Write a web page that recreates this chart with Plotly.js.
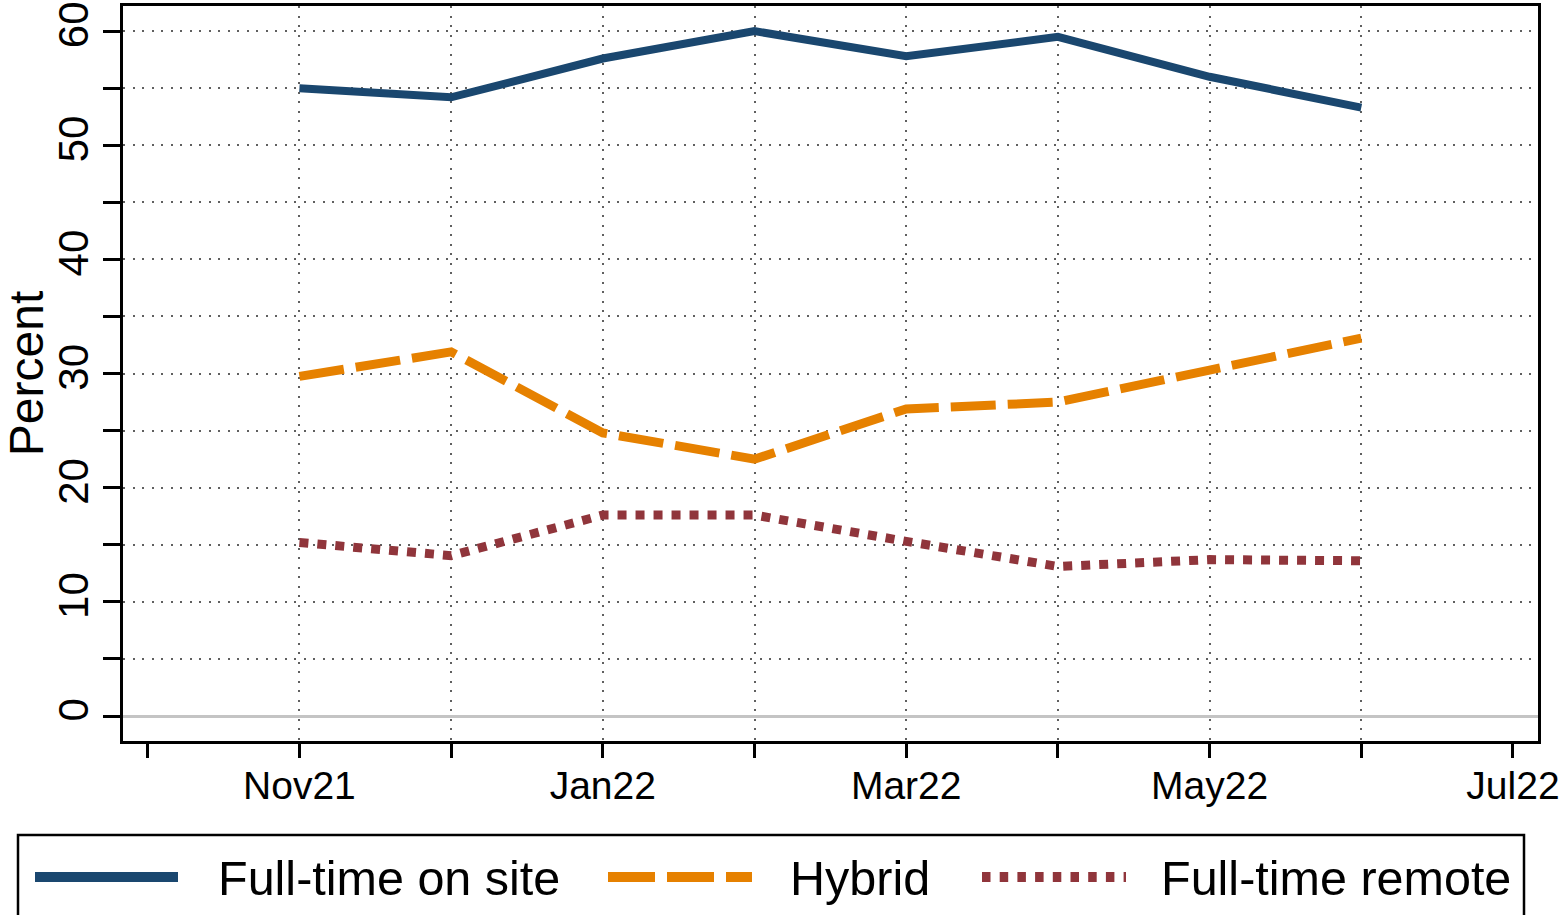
<!DOCTYPE html>
<html>
<head>
<meta charset="utf-8">
<script src="https://cdn.plot.ly/plotly-3.0.1.min.js"></script>
<style>
  html, body { margin: 0; padding: 0; background: #fff; }
  #chart { width: 1562px; height: 915px; }
</style>
</head>
<body>
<div id="chart"></div>
<script>
// ---- data ----
const months = ['Oct21', 'Nov21', 'Dec21', 'Jan22', 'Feb22', 'Mar22', 'Apr22', 'May22', 'Jun22', 'Jul22'];
const monthIndex = [0, 1, 2, 3, 4, 5, 6, 7, 8, 9];
const tickLabels = ['', 'Nov21', '', 'Jan22', '', 'Mar22', '', 'May22', '', 'Jul22'];
const obsIndex = [1, 2, 3, 4, 5, 6, 7, 8];
const fullTimeOnSite = [55.0, 54.2, 57.6, 60.0, 57.8, 59.5, 56.0, 53.3];
const hybrid = [29.75, 31.9, 24.8, 22.5, 26.9, 27.5, 30.3, 33.1];
const fullTimeRemote = [15.2, 14.05, 17.6, 17.6, 15.3, 13.1, 13.7, 13.6];
const seriesNames = ['Full-time on site', 'Hybrid', 'Full-time remote'];
const yTickVals = [0, 5, 10, 15, 20, 25, 30, 35, 40, 45, 50, 55, 60];
const yTickText = ['0', '', '10', '', '20', '', '30', '', '40', '', '50', '', '60'];

// ---- styles ----
const colors = ['#1a476f', '#e68100', '#90353b'];
const dashes = ['solid', '45px,12px', '9px,9px'];
const widths = [8, 9, 9];
const FONT = 'Liberation Sans, Arial, Helvetica, sans-serif';

const W = 1562, H = 915;
const M = { l: 123, r: 24, t: 6, b: 174 };
const plotW = W - M.l - M.r, plotH = H - M.t - M.b;
const px2x = p => (p - M.l) / plotW;
const px2y = p => (H - M.b - p) / plotH;

const gridStyle = { showgrid: true, gridcolor: '#606060', gridwidth: 1.5, griddash: '2px,7.5px' };

const traces = [fullTimeOnSite, hybrid, fullTimeRemote].map((vals, i) => ({
  type: 'scatter', mode: 'lines', x: obsIndex, y: vals, name: seriesNames[i],
  line: { color: colors[i], width: widths[i], dash: dashes[i] },
  hoverinfo: 'x+y+name', xaxis: 'x', yaxis: 'y'
}));
// empty helper trace so the labelled month axis is drawn
traces.push({ type: 'scatter', mode: 'lines', x: [], y: [], xaxis: 'x2', yaxis: 'y', showlegend: false, hoverinfo: 'skip' });

// ---- manual legend (decoration) ----
const legY = 877;
const legendItems = [
  { x0: 35, x1: 178, tx: 217, w: 10 },
  { x0: 608, x1: 752, tx: 789, w: 10 },
  { x0: 982, x1: 1126, tx: 1160, w: 10 }
];
const legDashes = ['solid', '47px,12px', '8.5px,9.2px'];
const shapes = [{
  type: 'rect', xref: 'paper', yref: 'paper',
  x0: px2x(18), x1: px2x(1524), y0: px2y(835), y1: px2y(925),
  line: { color: '#000', width: 2.5 }, fillcolor: 'rgba(0,0,0,0)'
}];
const annotations = [];
legendItems.forEach((it, i) => {
  shapes.push({
    type: 'line', xref: 'paper', yref: 'paper',
    x0: px2x(it.x0), x1: px2x(it.x1), y0: px2y(legY), y1: px2y(legY),
    line: { color: colors[i], width: it.w, dash: legDashes[i] }
  });
  annotations.push({
    xref: 'paper', yref: 'paper', x: px2x(it.tx), y: px2y(legY + 1),
    xanchor: 'left', yanchor: 'middle', showarrow: false, text: seriesNames[i],
    font: { family: FONT, size: 48.5, color: '#000' }, borderpad: 0
  });
});

const xRange = [-0.163, 9.165];
const layout = {
  width: W, height: H,
  margin: M,
  paper_bgcolor: '#fff', plot_bgcolor: '#fff',
  showlegend: false,
  font: { family: FONT, color: '#000' },
  xaxis: Object.assign({
    range: xRange, tickmode: 'array', tickvals: obsIndex, showticklabels: false,
    ticks: '', zeroline: false, showline: true, mirror: true, linecolor: '#000', linewidth: 2.5
  }, gridStyle),
  xaxis2: {
    overlaying: 'x', anchor: 'y', side: 'bottom', range: xRange,
    tickmode: 'array', tickvals: monthIndex, ticktext: tickLabels,
    ticks: 'outside', ticklen: 16, tickwidth: 2.7, tickcolor: '#000',
    ticklabelstandoff: -6,
    showgrid: false, zeroline: false, showline: false,
    tickfont: { family: FONT, size: 39, color: '#000' }
  },
  yaxis: Object.assign({
    range: [-2.19, 62.2], tickmode: 'array', tickvals: yTickVals, ticktext: yTickText,
    ticks: 'outside', ticklen: 17, tickwidth: 2.7, tickcolor: '#000', tickangle: -90,
    tickfont: { family: FONT, size: 42, color: '#000' },
    ticklabelstandoff: -2,
    zeroline: true, zerolinecolor: '#c4c4c4', zerolinewidth: 3,
    showline: true, mirror: true, linecolor: '#000', linewidth: 2.5,
    title: { text: 'Percent', font: { family: FONT, size: 48, color: '#000' }, standoff: 6 }
  }, gridStyle),
  shapes: shapes,
  annotations: annotations
};

Plotly.newPlot('chart', traces, layout, { displayModeBar: false, staticPlot: false });
</script>
</body>
</html>
